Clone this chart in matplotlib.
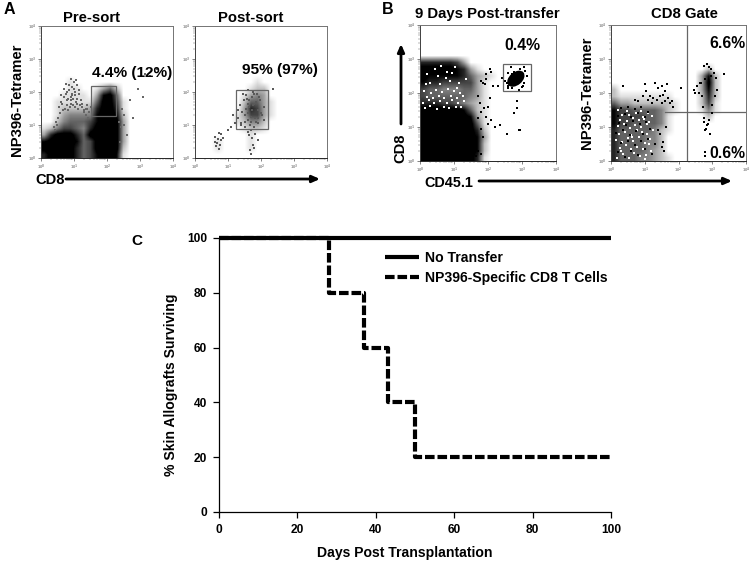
import numpy as np
import matplotlib
matplotlib.use("Agg")
import matplotlib.pyplot as plt
from matplotlib.patches import Rectangle, Ellipse

plt.rcParams['font.family'] = ['Liberation Sans', 'DejaVu Sans']
plt.rcParams['font.weight'] = 'bold'

W, H = 750, 564

# ---------- Panel C: survival ----------
days_no_transfer = [0, 100]
surv_no_transfer = [100, 100]
days_np396 = [0, 28, 37, 43, 50, 100]
surv_np396 = [100, 80, 60, 40, 20, 20]
legend_labels = ['No Transfer', 'NP396-Specific CD8 T Cells']
x_ticks_c = [0, 20, 40, 60, 80, 100]
y_ticks_c = [0, 20, 40, 60, 80, 100]

# ---------- Density: darkness 0-9, top row first, 0.2 decade cells ----------
a1_density = [
    "00000000000000000000",
    "00000000000000000000",
    "00000000000000000000",
    "00000000000000000000",
    "00000000000000000000",
    "00000000000000000000",
    "00000000000000000000",
    "00000000000000000000",
    "00001000000000000000",
    "00001100135200000000",
    "00011110389500000000",
    "00111111599610000000",
    "00122223799710000000",
    "00134444899820000000",
    "00245556899930000000",
    "12466547999930000000",
    "37999759999930000000",
    "89999856999930000000",
    "99999756999920000000",
    "79999756899810000000",
]
a2_density = [
    "00000000000000000000",
    "00000000000000000000",
    "00000000000000000000",
    "00000000000000000000",
    "00000000000000000000",
    "00000000000000000000",
    "00000000000000000000",
    "00000000000000000000",
    "00000000010000000000",
    "00000000122000000000",
    "00000001343000000000",
    "00000002553100000000",
    "00000003763100000000",
    "00000013663100000000",
    "00000012442000000000",
    "00000001221000000000",
    "00000000100000000000",
    "00010000100000000000",
    "00010000100000000000",
    "00000000000000000000",
]
b1_density = [
    "00000000000000000000",
    "00000000000000000000",
    "00000000000000000000",
    "00000000000000000000",
    "00000000000000000000",
    "77777630000000000000",
    "99999873100000000000",
    "98888875321000000000",
    "87766666310000000000",
    "65544455310000000000",
    "65555554310000000000",
    "77766543210000000000",
    "99999985210000000000",
    "99999998310000000000",
    "99999999510000000000",
    "99999999720000000000",
    "99999999830000000000",
    "99999999820000000000",
    "99999999820000000000",
    "99999999710000000000",
]
b2_density = [
    "00000000000000000000",
    "00000000000000000000",
    "00000000000000000000",
    "00000000000000000000",
    "00000000000000000000",
    "00000000000000000000",
    "00000000000000200000",
    "00000000000003820000",
    "00000000000003920000",
    "20000000000003820000",
    "21111111100002720000",
    "53322222210002610000",
    "86655554210001410000",
    "86666554100000200000",
    "86655554100000000000",
    "75555542100000000000",
    "75555442000000000000",
    "75555442000000000000",
    "75555432000000000000",
    "75554432100000000000",
]

# ---------- Gates (x, y, width, height in decades) ----------
a1_gate = (1.53, 1.26, 0.73, 0.93)
a2_gate = (1.23, 0.88, 0.98, 1.19)
b1_gate = (2.45, 2.06, 0.80, 0.80)
b2_vline = 2.24
b2_hline = 1.455
b1_cluster_center = (2.82, 2.42)
b1_cluster_size = (0.58, 0.38)

# ---------- Individual events ----------
a1_x = [0.6,0.7,0.75,0.8,0.85,0.9,0.95,1.0,1.02,1.1,1.15,1.2,0.55,0.65,0.72,0.78,0.82,0.88,0.92,0.98,1.05,1.12,1.18,1.25,1.3,1.35,0.62,0.7,0.85,0.95,1.05,1.15,0.75,0.8,0.9,1.0,1.08,0.82,0.9,0.98,1.02,1.1,0.95,1.03,2.7,2.95,3.1,3.3,3.5,3.15,2.8,2.5,2.45,2.6,2.38,2.42,2.5,2.35,1.4,1.45,1.5,1.35,1.42,1.3,1.25,1.38,0.48,0.52,0.42,0.58,0.68,0.38,0.44]
a1_y = [1.7,1.85,1.95,1.6,2.05,1.75,1.9,2.3,2.0,1.8,1.95,1.75,1.55,1.65,1.5,1.75,1.45,1.55,1.65,1.6,1.7,1.5,1.6,1.65,1.45,1.5,1.9,2.1,2.2,2.15,2.35,2.05,2.25,2.0,2.4,2.1,2.2,1.8,1.85,1.8,1.55,1.65,1.95,1.9,1.75,2.1,1.85,2.5,2.7,2.55,1.2,1.0,1.5,0.7,0.5,0.95,1.3,1.1,1.5,1.4,1.55,1.3,1.2,1.38,1.55,1.6,1.0,1.2,0.85,1.35,1.45,0.95,1.1]
a2_x = [1.3,1.35,1.4,1.42,1.48,1.5,1.55,1.6,1.62,1.68,1.72,1.78,1.82,1.88,1.92,1.98,2.02,2.08,2.1,1.45,1.52,1.58,1.65,1.7,1.75,1.8,1.85,1.9,1.95,2.0,1.5,1.6,1.7,1.8,1.9,1.55,1.65,1.75,1.85,1.4,1.6,1.72,1.3,0.62,0.68,0.72,0.78,0.65,0.7,0.75,0.85,0.6,0.8,0.72,1.7,1.72,1.75,1.68,1.78,1.7,1.82,1.6,1.65,1.9,1.2,1.1,1.0,1.15,2.35]
a2_y = [1.2,1.6,1.0,1.4,1.75,1.1,1.9,1.15,1.65,1.0,1.85,0.95,1.2,1.95,1.05,1.75,1.3,1.55,1.15,1.95,1.3,1.8,1.55,1.25,2.0,1.65,1.1,1.45,1.85,1.35,0.95,2.05,1.1,1.95,1.2,1.5,1.75,1.6,1.7,1.05,1.35,1.45,1.45,0.65,0.45,0.75,0.55,0.35,0.58,0.38,0.62,0.5,0.72,0.28,0.85,0.6,0.4,0.25,0.3,0.12,0.72,0.8,0.7,0.55,1.05,0.95,0.85,1.3,2.1]
b1_x = [1.95,2.1,2.05,2.0,2.3,1.85,1.8,1.9,1.95,2.15,1.8,1.95,2.0,2.05,2.1,2.2,2.35,2.55,2.75,2.95,2.85,2.9,2.4,2.5,2.6,2.62,2.68,2.72,3.0,3.05,3.1,3.15,2.6,2.9,2.95,3.05,2.55,2.58,1.75,1.72,1.78,1.85,1.7,1.72,1.65,1.8,2.85,1.62,1.6,1.88,2.92,2.7,2.98,3.02,2.66,2.75]
b1_y = [2.55,2.62,2.7,1.6,2.2,2.3,2.35,2.25,2.4,2.2,1.45,1.3,1.1,1.85,1.2,1.0,1.05,0.8,1.4,0.9,1.55,0.9,2.45,2.35,2.15,2.3,2.75,2.15,2.18,2.3,2.65,2.5,2.6,2.1,2.7,2.75,2.3,2.2,1.7,1.25,0.95,0.7,0.3,1.9,0.15,0.2,1.75,0.65,0.35,1.55,2.62,2.55,2.6,2.22,2.4,2.62]
b1_white_x = [0.15,0.3,0.5,0.7,0.85,1.05,1.2,0.1,0.25,0.42,0.6,0.78,0.95,1.12,1.3,0.2,0.38,0.55,0.72,0.9,1.08,1.25,0.12,0.32,0.48,0.66,0.82,1.0,1.18,0.28,0.58,0.88,0.22,0.75,1.15,0.45,0.95,0.62,1.02,1.35,0.18,0.52,0.8,1.1]
b1_white_y = [1.55,1.62,1.52,1.6,1.55,1.58,1.6,1.72,1.78,1.7,1.76,1.72,1.78,1.7,1.75,1.88,1.85,1.92,1.86,1.9,1.84,1.92,2.05,2.0,2.1,2.02,2.12,2.05,2.0,2.3,2.25,2.35,2.55,2.45,2.3,2.7,2.6,2.8,2.75,2.4,2.25,2.5,2.62,2.15]
b2_x = [0.35,1.0,1.05,1.3,1.4,1.5,1.55,1.6,1.65,1.15,1.25,0.7,0.8,0.95,1.1,1.2,1.35,1.45,1.75,1.8,1.85,1.7,1.6,1.5,1.45,1.55,1.62,1.5,1.58,1.4,2.08,2.5,2.45,2.55,2.65,2.75,2.85,2.95,3.05,3.1,3.35,2.8,2.9,2.7,2.62,2.72,3.0,3.08,2.78,2.88,3.15,2.75,2.85,2.9,2.82,2.75,2.95,3.0,2.68,2.8,2.78,2.92,0.2,0.4,0.6,0.8,1.0,1.2,0.3,0.5,0.7,0.9,1.1,1.3,0.15,0.35,0.55,0.75,0.95,1.15,0.25,0.45,0.65,0.85,1.05,0.2,0.4,0.6,0.8,1.0,0.3,0.5,0.7,0.9,1.1]
b2_y = [2.2,2.25,2.05,2.3,2.15,2.2,1.95,2.05,2.25,1.9,1.85,1.8,1.75,1.9,1.8,1.7,1.8,1.9,1.7,1.75,1.6,1.85,1.75,1.7,0.8,0.55,1.0,0.4,0.3,0.9,2.15,2.0,2.1,2.2,2.3,2.8,2.85,2.7,2.6,2.45,2.55,2.4,2.75,1.9,2.0,1.6,1.4,1.9,0.9,1.1,2.1,1.25,1.05,1.2,0.95,1.15,2.5,1.65,2.3,0.15,0.25,0.8,0.25,0.12,0.3,0.18,0.35,0.22,0.52,0.6,0.48,0.58,0.66,0.5,0.82,0.9,0.76,0.88,0.8,0.95,1.12,1.05,1.18,1.08,1.15,1.32,1.38,1.28,1.4,1.3,1.55,1.6,1.52,1.58,1.45]
b2_white_x = [0.18,0.36,0.52,0.68,0.86,1.02,1.18,0.26,0.44,0.6,0.78,0.94,1.12,0.16,0.32,0.5,0.66,0.84,1.0,1.16,0.24,0.42,0.58,0.76,0.92,1.08,1.24,0.2,0.38,0.56,0.72,0.9,1.06,0.28,0.46,0.64,0.82,0.98,1.14,0.34,0.54,0.74,0.96,1.2,0.22,0.48,0.7,0.88,1.1,0.3,0.62,1.04]
b2_white_y = [0.1,0.2,0.08,0.24,0.14,0.06,0.28,0.38,0.46,0.34,0.42,0.36,0.5,0.62,0.56,0.68,0.6,0.7,0.54,0.64,0.8,0.86,0.76,0.9,0.84,0.78,0.92,1.02,1.08,0.98,1.06,1.0,1.1,1.22,1.18,1.26,1.2,1.24,1.16,1.36,1.34,1.4,1.3,1.32,1.5,1.46,1.54,1.48,1.42,0.3,0.72,0.18]

fig = plt.figure(figsize=(W/100, H/100), dpi=100)

def px_axes(x0, y0, x1, y1):
    return fig.add_axes([x0/W, 1-y1/H, (x1-x0)/W, (y1-y0)/H])

def flow_axes(x0, y0, x1, y1, density):
    ax = px_axes(x0, y0, x1, y1)
    grid = np.array([[int(ch) for ch in row] for row in density], dtype=float)
    ax.imshow(grid, extent=(0, 4, 0, 4), cmap='gray_r', vmin=0, vmax=8.2,
              interpolation='bilinear', aspect='auto', zorder=1)
    ax.set_xlim(0, 4); ax.set_ylim(0, 4)
    major = [0, 1, 2, 3, 4]
    minor = [d + np.log10(m) for d in range(4) for m in range(2, 10)]
    for s in ax.spines.values():
        s.set_color('0.45'); s.set_linewidth(0.7)
    ax.spines['bottom'].set_color('0.15')
    ax.spines['left'].set_color('0.25')
    for axis in (ax.xaxis, ax.yaxis):
        axis.set_ticks(major)
        axis.set_ticks(minor, minor=True)
        axis.set_ticklabels(['10$^{%d}$' % d for d in major])
    ax.tick_params(which='major', length=2.2, width=0.5, color='0.3', labelsize=3, labelcolor='0.55', pad=1)
    ax.tick_params(which='minor', length=1.1, width=0.35, color='0.45')
    return ax

def dots(ax, x, y, c='black', s=0.8, z=3):
    ax.scatter(x, y, s=s, c=c, marker='s', linewidths=0, zorder=z)

gate_c = '0.4'

# A1
a1 = flow_axes(41, 26, 173, 158, a1_density)
dots(a1, a1_x, a1_y, '0.4', 0.75)
a1.add_patch(Rectangle(a1_gate[:2], a1_gate[2], a1_gate[3], fill=False, ec=gate_c, lw=0.9, zorder=5))

# A2
a2 = flow_axes(195, 26, 327, 158, a2_density)
dots(a2, a2_x, a2_y, '0.35', 0.75)
a2.add_patch(Rectangle(a2_gate[:2], a2_gate[2], a2_gate[3], fill=False, ec=gate_c, lw=0.9, zorder=5))

# B1
b1 = flow_axes(420, 25, 556, 161, b1_density)
dots(b1, b1_white_x, b1_white_y, 'white', 0.9)
dots(b1, b1_x, b1_y, 'black', 0.9)
b1.add_patch(Ellipse(b1_cluster_center, b1_cluster_size[0], b1_cluster_size[1], angle=40,
                     facecolor='black', edgecolor='none', zorder=4))
b1.add_patch(Rectangle(b1_gate[:2], b1_gate[2], b1_gate[3], fill=False, ec=gate_c, lw=0.9, zorder=5))

# B2
b2 = flow_axes(611, 25, 746, 161, b2_density)
b2.axvline(b2_vline, color='0.4', lw=0.9, zorder=2)
b2.plot([1.6, 4], [b2_hline, b2_hline], color='0.4', lw=0.9, zorder=2)
dots(b2, b2_white_x, b2_white_y, 'white', 1.0)
dots(b2, b2_x, b2_y, 'black', 0.9)

# C
c = px_axes(219, 238, 611, 512)
c.set_xlim(0, 100); c.set_ylim(0, 100)
c.plot(days_no_transfer, surv_no_transfer, color='black', lw=3, label=legend_labels[0],
       clip_on=False, solid_capstyle='butt', zorder=4)
c.step(days_np396, surv_np396, where='post', color='black', lw=3, label=legend_labels[1],
       linestyle=(0, (2.3, 0.7)), clip_on=False, zorder=3)
c.spines['top'].set_visible(False); c.spines['right'].set_visible(False)
c.spines['left'].set_linewidth(0.9); c.spines['bottom'].set_linewidth(0.9)
c.set_xticks(x_ticks_c); c.set_yticks(y_ticks_c)
c.tick_params(length=4, width=0.9, labelsize=8.6, pad=4.5)
c.legend(loc='upper left', bbox_to_anchor=((385-219)/392, (512-251)/274), frameon=False,
         handlelength=2.4, handletextpad=0.45, labelspacing=0.42, borderpad=0, borderaxespad=0,
         prop={'weight': 'bold', 'size': 10.1})

# Overlay for annotation text and arrows, in pixels
ov = fig.add_axes([0, 0, 1, 1], zorder=10)
ov.set_xlim(0, W); ov.set_ylim(H, 0); ov.axis('off'); ov.patch.set_alpha(0)

def txt(x, y, s, size=10.7, **kw):
    ov.text(x, y, s, fontsize=size, fontweight='bold', ha='center', va='center', color='black', **kw)

def arrow(x0, y0, x1, y1):
    ov.annotate('', xy=(x1, y1), xytext=(x0, y0),
                arrowprops=dict(arrowstyle='-|>,head_length=0.45,head_width=0.2', color='black', lw=2,
                                shrinkA=0, shrinkB=0))

txt(9, 9, 'A', 11.5)
txt(388, 9, 'B', 11.5)
txt(137, 241, 'C', 11)
txt(91, 18, 'Pre-sort')
txt(251, 18, 'Post-sort')
txt(487, 14, '9 Days Post-transfer')
txt(684, 14, 'CD8 Gate')
txt(132.5, 73, '4.4% (12%)', 11.1)
txt(280, 70, '95% (97%)', 11.1)
txt(522, 46, '0.4%', 11.3)
txt(727, 44, '6.6%', 11.3)
txt(727, 153, '0.6%', 11.3)
txt(17, 100, 'NP396-Tetramer', 10.7, rotation=90)
txt(50, 180, 'CD8', 10.6)
txt(400, 148, 'CD8', 10.6, rotation=90)
txt(449, 183, 'CD45.1', 10.4)
txt(587, 93, 'NP396-Tetramer', 10.7, rotation=90)
txt(404.5, 553, 'Days Post Transplantation', 10.1)
txt(171, 385, '% Skin Allografts Surviving', 10.1, rotation=90)
arrow(66, 179, 320, 179)
arrow(401, 124, 401, 44)
arrow(479, 181, 732, 181)

fig.savefig('out.png', dpi=100)
